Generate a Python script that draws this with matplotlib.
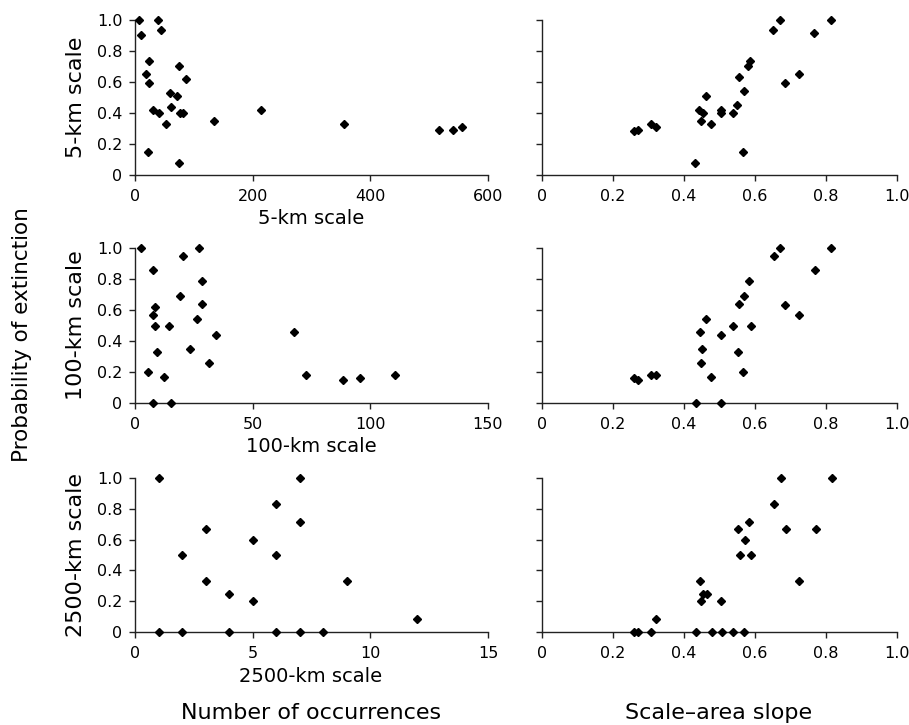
import matplotlib
matplotlib.use('Agg')
import matplotlib.pyplot as plt

# ---------------------------------------------------------------------------
# Data (probability of extinction vs predictors)
# ---------------------------------------------------------------------------
# Row 1: 5-km scale
occ_5km = [6, 39, 44, 11, 23, 18, 23, 74, 87, 60, 72, 62, 31, 41, 77, 82, 53,
           135, 215, 355, 22, 74, 516, 541, 555]
p_occ_5km = [1.0, 1.0, 0.93, 0.90, 0.73, 0.65, 0.59, 0.70, 0.62, 0.53, 0.51,
             0.44, 0.42, 0.40, 0.40, 0.40, 0.33, 0.35, 0.42, 0.33, 0.15, 0.08,
             0.29, 0.29, 0.31]
slope_5km = [0.259, 0.269, 0.307, 0.321, 0.432, 0.443, 0.448, 0.453, 0.461,
             0.475, 0.504, 0.503, 0.538, 0.550, 0.555, 0.570, 0.567, 0.580,
             0.587, 0.652, 0.672, 0.686, 0.723, 0.768, 0.815]
p_slope_5km = [0.28, 0.29, 0.33, 0.31, 0.08, 0.42, 0.35, 0.40, 0.51, 0.33,
               0.42, 0.40, 0.40, 0.45, 0.63, 0.54, 0.15, 0.70, 0.73, 0.93,
               1.0, 0.59, 0.65, 0.91, 1.0]

# Row 2: 100-km scale
occ_100km = [2.4, 27.2, 20.6, 7.7, 28.5, 19.3, 8.5, 28.5, 7.5, 26.4, 8.5, 14.3,
             34.5, 23.4, 9.4, 31.6, 5.5, 12.5, 7.7, 15.5, 67.4, 72.6, 88.5,
             95.6, 110.5]
p_occ_100km = [1.0, 1.0, 0.95, 0.86, 0.79, 0.69, 0.62, 0.64, 0.57, 0.54, 0.50,
               0.50, 0.44, 0.35, 0.33, 0.26, 0.20, 0.17, 0.0, 0.0, 0.46, 0.18,
               0.15, 0.16, 0.18]
slope_100km = [0.258, 0.270, 0.308, 0.321, 0.433, 0.505, 0.444, 0.449, 0.452,
               0.462, 0.476, 0.504, 0.538, 0.551, 0.555, 0.567, 0.570, 0.582,
               0.588, 0.653, 0.672, 0.686, 0.724, 0.769, 0.816]
p_slope_100km = [0.16, 0.15, 0.18, 0.18, 0.0, 0.0, 0.46, 0.26, 0.35, 0.54,
                 0.17, 0.44, 0.50, 0.33, 0.64, 0.20, 0.69, 0.79, 0.50, 0.95,
                 1.0, 0.63, 0.57, 0.86, 1.0]

# Row 3: 2500-km scale
occ_2500km = [1, 7, 6, 7, 3, 5, 2, 6, 3, 4, 5, 9, 12, 1, 2, 4, 6, 7, 8]
p_occ_2500km = [1.0, 1.0, 0.833, 0.714, 0.667, 0.6, 0.5, 0.5, 0.333, 0.25,
                0.2, 0.333, 0.083, 0.0, 0.0, 0.0, 0.0, 0.0, 0.0]
slope_2500km = [0.258, 0.270, 0.308, 0.321, 0.434, 0.478, 0.506, 0.539, 0.568,
                0.445, 0.449, 0.453, 0.465, 0.504, 0.552, 0.557, 0.572, 0.583,
                0.589, 0.654, 0.673, 0.688, 0.725, 0.771, 0.817]
p_slope_2500km = [0.0, 0.0, 0.0, 0.083, 0.0, 0.0, 0.0, 0.0, 0.0, 0.333, 0.2,
                  0.25, 0.25, 0.2, 0.667, 0.5, 0.6, 0.714, 0.5, 0.833, 1.0,
                  0.667, 0.333, 0.667, 1.0]

row_labels = ['5-km scale', '100-km scale', '2500-km scale']
occ_xmax = [600, 150, 15]
occ_xticks = [[0, 200, 400, 600], [0, 50, 100, 150], [0, 5, 10, 15]]
slope_xticks = [0, 0.2, 0.4, 0.6, 0.8, 1.0]
slope_xticklabels = ['0', '0.2', '0.4', '0.6', '0.8', '1.0']
y_ticks = [0, 0.2, 0.4, 0.6, 0.8, 1.0]
y_ticklabels = ['0', '0.2', '0.4', '0.6', '0.8', '1.0']

occ_x = [occ_5km, occ_100km, occ_2500km]
occ_y = [p_occ_5km, p_occ_100km, p_occ_2500km]
slope_x = [slope_5km, slope_100km, slope_2500km]
slope_y = [p_slope_5km, p_slope_100km, p_slope_2500km]

plt.rcParams['font.family'] = 'DejaVu Sans'

W, H = 909, 725
fig = plt.figure(figsize=(W / 100, H / 100), dpi=100)


def px_axes(x0, x1, ytop, ybot):
    return fig.add_axes([x0 / W, 1 - ybot / H, (x1 - x0) / W, (ybot - ytop) / H])


def style(ax, show_ylabels):
    for s in ['top', 'right']:
        ax.spines[s].set_visible(False)
    for s in ['left', 'bottom']:
        ax.spines[s].set_linewidth(1.0)
        ax.spines[s].set_color('#222222')
    ax.set_ylim(0, 1.0)
    ax.set_yticks(y_ticks)
    if show_ylabels:
        ax.set_yticklabels(y_ticklabels)
    else:
        ax.set_yticklabels([])
    ax.tick_params(direction='out', length=4, width=1.0, color='#222222',
                   labelsize=11.5)
    ax.tick_params(axis='y', pad=5)
    ax.tick_params(axis='x', pad=6)


row_bounds = [(19.5, 175), (248, 403), (478, 632)]
mk = dict(marker='D', color='black', markersize=4.5, linestyle='none',
          clip_on=False, zorder=3)

for i, (ytop, ybot) in enumerate(row_bounds):
    ax_l = px_axes(135, 488, ytop, ybot)
    style(ax_l, True)
    ax_l.plot(occ_x[i], occ_y[i], **mk)
    ax_l.set_xlim(0, occ_xmax[i])
    ax_l.set_xticks(occ_xticks[i])

    ax_r = px_axes(542.3, 896.7, ytop, ybot)
    style(ax_r, False)
    ax_r.plot(slope_x[i], slope_y[i], **mk)
    ax_r.set_xlim(0, 1.0)
    ax_r.set_xticks(slope_xticks)
    ax_r.set_xticklabels(slope_xticklabels)

    # row labels
    fig.text(311 / W, 1 - (ybot + 44) / H, row_labels[i], ha='center',
             va='center', fontsize=14)
    fig.text(76 / W, 1 - ((ytop + ybot) / 2) / H, row_labels[i], ha='center',
             va='center', rotation=90, fontsize=16)

fig.text(22 / W, 1 - 335 / H, 'Probability of extinction', ha='center',
         va='center', rotation=90, fontsize=15.5)
fig.text(311 / W, 1 - 713 / H, 'Number of occurrences', ha='center',
         va='center', fontsize=16)
fig.text(719 / W, 1 - 713 / H, 'Scale\u2013area slope', ha='center',
         va='center', fontsize=16)

fig.savefig('out.png', dpi=100)
